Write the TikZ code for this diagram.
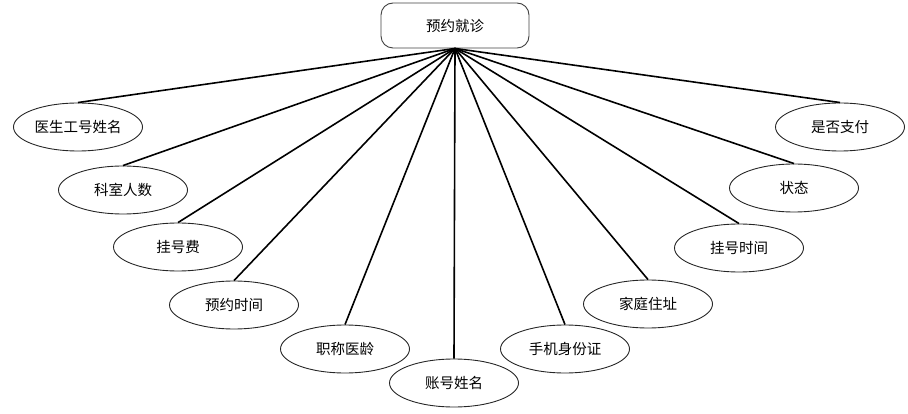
\documentclass[tikz,border=0pt]{standalone}
\usepackage{fontspec}
\newfontfamily\cjk{Noto Sans CJK SC}
\usetikzlibrary{shapes.geometric}
\begin{document}
\begin{tikzpicture}[x=1pt,y=-1pt,
  attr/.style={draw=black!85, line width=0.9pt, ellipse, minimum width=129pt, minimum height=48pt, inner sep=0pt, font=\cjk\fontsize{14.5}{16}\selectfont},
  rootbox/.style={draw=black!75, line width=0.9pt, rounded corners=12pt, minimum width=148pt, minimum height=45pt, inner sep=0pt, font=\cjk\fontsize{14.5}{16}\selectfont},
  link/.style={line width=1.6pt, black}]
\useasboundingbox (0,0) rectangle (908,414);
\node[rootbox] (root) at (455,25.5) {预约就诊};
\node[attr] (e1) at (78,127) {医生工号姓名};
\node[attr] (e2) at (123,190) {科室人数};
\node[attr] (e3) at (178,247) {挂号费};
\node[attr] (e4) at (234,305) {预约时间};
\node[attr] (e5) at (345,349) {职称医龄};
\node[attr] (e6) at (454,383) {账号姓名};
\node[attr] (e7) at (565,349) {手机身份证};
\node[attr] (e8) at (648,304) {家庭住址};
\node[attr] (e9) at (739,248) {挂号时间};
\node[attr] (e10) at (794,188) {状态};
\node[attr] (e11) at (840,127) {是否支付};
\foreach \n in {e1,e2,e3,e4,e5,e6,e7,e8,e9,e10,e11}
  \draw[link] (root.south) -- (\n.north);
\end{tikzpicture}
\end{document}
